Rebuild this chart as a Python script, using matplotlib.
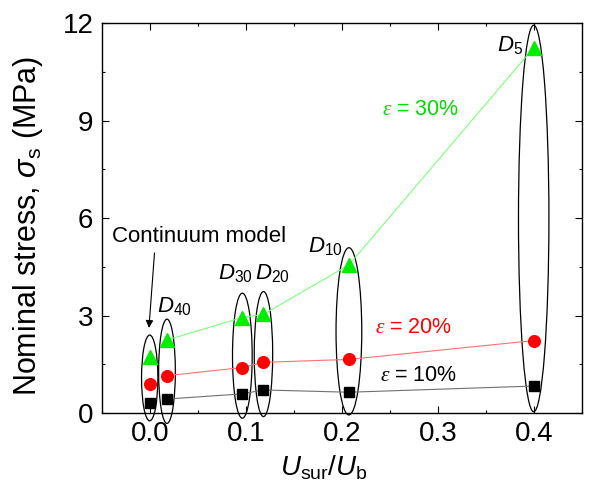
import matplotlib
matplotlib.use("Agg")
import matplotlib.pyplot as plt
from matplotlib.patches import Ellipse
from matplotlib.ticker import MultipleLocator

plt.rcParams['font.family'] = ['Liberation Sans', 'DejaVu Sans']
plt.rcParams['mathtext.fontset'] = 'custom'
plt.rcParams['mathtext.rm'] = 'Liberation Sans'
plt.rcParams['mathtext.it'] = 'Liberation Sans:italic'
plt.rcParams['mathtext.bf'] = 'Liberation Sans:bold'
plt.rcParams['mathtext.sf'] = 'Liberation Serif:italic'

# ---- data ----
model_labels = ["40", "30", "20", "10", "5"]
x_models = [0.018, 0.0965, 0.1185, 0.2075, 0.400]
stress_30 = [2.25, 2.94, 3.04, 4.56, 11.25]
stress_20 = [1.15, 1.40, 1.56, 1.65, 2.23]
stress_10 = [0.43, 0.59, 0.71, 0.64, 0.83]

x_continuum = 0.0
continuum_30 = 1.74
continuum_20 = 0.89
continuum_10 = 0.30

# ellipse groups (continuum first, then D40..D5)
ell_x = [0.0, 0.018, 0.0965, 0.1185, 0.2075, 0.400]
ell_bottom = [-0.24, -0.32, -0.16, -0.11, -0.06, 0.04]
ell_top = [2.40, 2.89, 3.69, 3.74, 5.09, 11.94]
ell_width = [0.0170, 0.0174, 0.0205, 0.0192, 0.0268, 0.0317]

x_ticks = [0.0, 0.1, 0.2, 0.3, 0.4]
y_ticks = [0, 3, 6, 9, 12]

fig = plt.figure(figsize=(6.0, 5.03), dpi=100)
ax = fig.add_axes([0.1695, 0.1789, 0.8, 0.7748])

for xc, b, t, w in zip(ell_x, ell_bottom, ell_top, ell_width):
    e = Ellipse((xc, (b + t) / 2), w, t - b, facecolor='none', edgecolor='black',
                lw=0.9, clip_on=False, zorder=2)
    ax.add_patch(e)

ax.plot(x_models, stress_30, color='#7dff7d', lw=0.8, zorder=3)
ax.plot(x_models, stress_20, color='#ff7070', lw=0.8, zorder=3)
ax.plot(x_models, stress_10, color='#707070', lw=0.8, zorder=3)

ax.plot(x_models + [x_continuum], stress_30 + [continuum_30], ls='none', marker='^',
        ms=10, color='#00ee00', mec='#00ee00', zorder=4, clip_on=False)
ax.plot(x_models + [x_continuum], stress_20 + [continuum_20], ls='none', marker='o',
        ms=8.4, color='#ff0000', zorder=4, clip_on=False)
ax.plot(x_models + [x_continuum], stress_10 + [continuum_10], ls='none', marker='s',
        ms=7.0, color='black', zorder=4, clip_on=False)

# D labels
d_pos = [(0.0073, 3.11), (0.071, 4.10), (0.1096, 4.10), (0.165, 4.96), (0.362, 11.13)]
for lab, (tx, ty) in zip(model_labels, d_pos):
    ax.text(tx, ty, r"$D_{\mathrm{%s}}$" % lab, fontsize=16, ha='left', va='baseline', zorder=5)

ax.text(-0.039, 5.27, "Continuum model", fontsize=16, ha='left', va='baseline')
ax.annotate('', xy=(-0.0008, 2.62), xytext=(0.005, 4.93),
            arrowprops=dict(arrowstyle='-|>', color='black', lw=0.8, mutation_scale=11,
                            shrinkA=0, shrinkB=0))

ax.text(0.242, 9.19, r"$\mathsf{\varepsilon}$ = 30%", fontsize=15.5, color='#00dd00',
        ha='left', va='baseline')
ax.text(0.235, 2.47, r"$\mathsf{\varepsilon}$ = 20%", fontsize=15.5, color='#ff0000',
        ha='left', va='baseline')
ax.text(0.240, 1.00, r"$\mathsf{\varepsilon}$ = 10%", fontsize=15.5, color='black',
        ha='left', va='baseline')

ax.set_xlim(-0.05, 0.45)
ax.set_ylim(0, 12)
ax.set_xticks(x_ticks)
ax.set_xticklabels([f"{v:.1f}" for v in x_ticks])
ax.set_yticks(y_ticks)
ax.set_yticklabels([str(v) for v in y_ticks])
ax.xaxis.set_minor_locator(MultipleLocator(0.05))
ax.yaxis.set_minor_locator(MultipleLocator(1.5))
ax.tick_params(which='both', direction='in', top=True, right=True, width=0.8, labelsize=20)
ax.tick_params(which='major', length=5, pad=6)
ax.tick_params(which='minor', length=2.5)
for s in ax.spines.values():
    s.set_linewidth(1.0)

ax.set_xlabel(r"$U_{\mathrm{sur}}/U_{\mathrm{b}}$", fontsize=20)
ax.xaxis.set_label_coords(0.463, -0.105)
ax.set_ylabel(r"Nominal stress, $\sigma_{\mathrm{s}}$ (MPa)", fontsize=22)
ax.yaxis.set_label_coords(-0.118, 0.48)

fig.savefig("out.png", dpi=100)
